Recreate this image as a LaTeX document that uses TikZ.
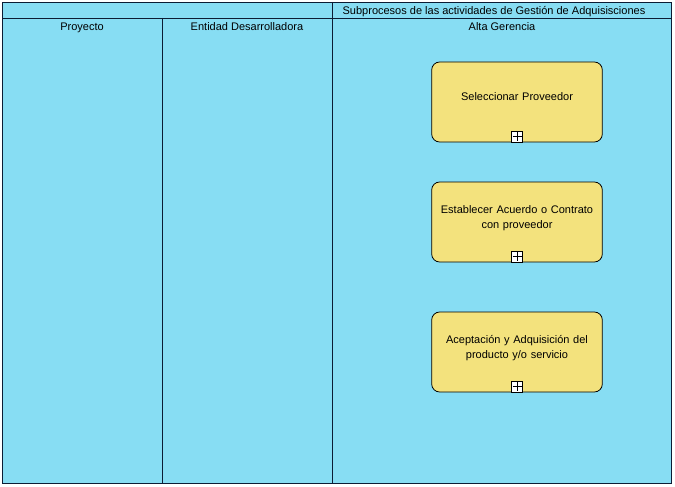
\documentclass[tikz,border=0pt]{standalone}
\usepackage{fontspec}
\setmainfont{Liberation Sans}
\usetikzlibrary{positioning}

\definecolor{pool}{RGB}{135,221,243}
\definecolor{taskfill}{RGB}{243,226,125}
\definecolor{lineblue}{RGB}{12,28,52}

\newcommand{\lblfont}{\fontsize{11}{15}\selectfont}

\begin{document}
\begin{tikzpicture}[x=1pt,y=-1pt,on grid,node distance=120pt,font=\lblfont,
	lanelbl/.style={anchor=base,inner sep=0pt},
	task/.style={draw=black,fill=taskfill,rounded corners=8pt,line width=0.8pt,
		minimum width=170pt,minimum height=80pt,text width=164pt,align=center,text depth=10pt},
	subp/.style={draw=black,fill=white,minimum size=11pt,inner sep=0pt,line width=0.8pt,
		path picture={\draw[line width=0.9pt] ([yshift=-1pt]path picture bounding box.north) -- ([yshift=1pt]path picture bounding box.south)
			([xshift=1pt]path picture bounding box.west) -- ([xshift=-1pt]path picture bounding box.east);}}]
	\useasboundingbox (0,0) rectangle (675,487);
	% pool and lanes
	\draw[draw=lineblue,fill=pool,line width=0.9pt] (2,2) rectangle (671,483);
	\draw[lineblue,line width=0.9pt] (2,18) -- (671,18);
	\draw[lineblue,line width=0.9pt] (162,18) -- (162,483);
	\draw[lineblue,line width=0.9pt] (332,18) -- (332,483);
	\draw[lineblue,line width=0.9pt] (332,2) -- (332,18);
	\node[lanelbl] (pool) at (494,14.5) {Subprocesos de las actividades de Gesti\'on de Adquisisciones};
	\node[lanelbl] (proy) at (82,31) {Proyecto};
	\node[lanelbl] (ent) at (247,31) {Entidad Desarrolladora};
	\node[lanelbl] (alta) at (502,31) {Alta Gerencia};
	% subprocesos
	\node[task] (sel) at (517,102) {Seleccionar Proveedor};
	\node[task,text depth=25pt] (acu) [below=of sel] {Establecer Acuerdo o Contrato\\con proveedor};
	\node[task,text depth=26pt] (acep) [below=130pt of acu] {Aceptaci\'on y Adquisici\'on del\\producto y/o servicio};
	\node[subp] (selp) at ([yshift=6pt]sel.south) {};
	\node[subp] (acup) at ([yshift=6pt]acu.south) {};
	\node[subp] (acepp) at ([yshift=6pt]acep.south) {};
\end{tikzpicture}
\end{document}
